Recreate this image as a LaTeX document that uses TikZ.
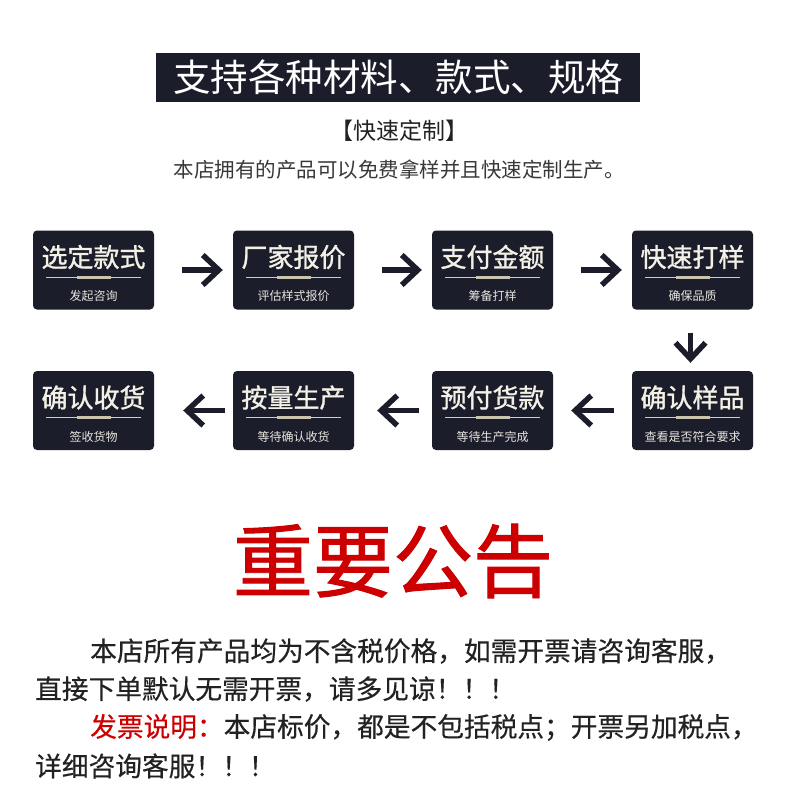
\documentclass[tikz,border=0pt]{standalone}
\usepackage{fontspec}
\setmainfont{Noto Sans CJK SC}
\newfontfamily\cjkmed[FakeBold=1.2]{Noto Sans CJK SC}
\newfontfamily\cjkbody[FakeBold=0.4]{Noto Sans CJK SC}
\usetikzlibrary{arrows.meta,calc}
\definecolor{navy}{HTML}{1C1D2B}
\definecolor{cream}{HTML}{F3F0E6}
\definecolor{linec}{HTML}{D2CEBF}
\definecolor{segc}{HTML}{C9C4AF}
\definecolor{redc}{HTML}{CC0000}
\definecolor{txt}{HTML}{222222}
\definecolor{subtxt}{HTML}{E6E4DE}
\tikzset{
  stepbox/.style={fill=navy, rounded corners=4pt, minimum width=121pt, minimum height=79pt, inner sep=0pt},
  steptitle/.style={text=cream, inner sep=0pt, font=\cjkmed\fontsize{26}{28}\selectfont},
  stepsub/.style={text=subtxt, inner sep=0pt, font=\fontsize{12}{14}\selectfont},
  thinline/.style={draw=linec, line width=1pt},
  thickseg/.style={draw=segc, line width=3pt},
  flowarrow/.style={draw=navy, line width=5.5pt, -{Straight Barb[length=16pt, width=30pt, line join=miter]}},
  bodytext/.style={text=txt, inner sep=0pt, anchor=west, font=\cjkbody\fontsize{26.7}{30}\selectfont},
}
\newcommand{\stepnode}[5]{%
  \node[stepbox] (#1) at (#2,#3) {};
  \node[steptitle] (#1t) at ($(#1.center)+(0,-13)$) {#4};
  \draw[thinline] ($(#1.center)+(-47.5,7)$) -- ($(#1.center)+(47.5,7)$);
  \draw[thickseg] ($(#1.center)+(-17,7)$) -- ($(#1.center)+(17,7)$);
  \node[stepsub] (#1s) at ($(#1.center)+(0,26)$) {#5};
}
\begin{document}
\begin{tikzpicture}[x=1pt,y=-1pt]
\useasboundingbox[fill=white] (0,0) rectangle (790,806);
\node[fill=navy, minimum width=484pt, minimum height=49pt, inner sep=0pt, text=white, font=\fontsize{37.5}{40}\selectfont] (title) at (398,77.5) {支持各种材料、款式、规格};
\node[text=txt, inner sep=0pt, font=\fontsize{23}{26}\selectfont] (quick) at (399,131) {【快速定制】};
\node[text=txt!90, inner sep=0pt, font=\fontsize{20.5}{24}\selectfont] (intro) at (399,170) {本店拥有的产品可以免费拿样并且快速定制生产。};
\stepnode{b1}{93.5}{270}{选定款式}{发起咨询}
\stepnode{b2}{293.5}{270}{厂家报价}{评估样式报价}
\stepnode{b3}{492.5}{270}{支付金额}{筹备打样}
\stepnode{b4}{692.5}{270}{快速打样}{确保品质}
\stepnode{b5}{93.5}{410.5}{确认收货}{签收货物}
\stepnode{b6}{293.5}{410.5}{按量生产}{等待确认收货}
\stepnode{b7}{492.5}{410.5}{预付货款}{等待生产完成}
\stepnode{b8}{692.5}{410.5}{确认样品}{查看是否符合要求}
\draw[flowarrow] ($(b1.east)+(28,0)$) -- ($(b2.west)+(-10,0)$);
\draw[flowarrow] ($(b2.east)+(28,0)$) -- ($(b3.west)+(-10,0)$);
\draw[flowarrow] ($(b3.east)+(28,0)$) -- ($(b4.west)+(-10,0)$);
\draw[flowarrow] ($(b4.south)+(-2,23)$) -- ($(b8.north)+(-2,-8)$);
\draw[flowarrow] ($(b8.west)+(-18,0)$) -- ($(b7.east)+(18,0)$);
\draw[flowarrow] ($(b7.west)+(-13,0)$) -- ($(b6.east)+(23,0)$);
\draw[flowarrow] ($(b6.west)+(-8,0)$) -- ($(b5.east)+(29,0)$);
\node[text=redc, inner sep=0pt, font=\cjkmed\fontsize{80}{84}\selectfont] (notice) at (393,561) {重要公告};
\node[bodytext] (l1) at (90,651) {本店所有产品均为不含税价格，如需开票请咨询客服，};
\node[bodytext] (l2) at (35,689) {直接下单默认无需开票，请多见谅！！！};
\node[bodytext] (l3) at (90,727.5) {\textcolor{redc}{发票说明：}本店标价，都是不包括税点；开票另加税点，};
\node[bodytext] (l4) at (35,766) {详细咨询客服！！！};
\end{tikzpicture}
\end{document}
